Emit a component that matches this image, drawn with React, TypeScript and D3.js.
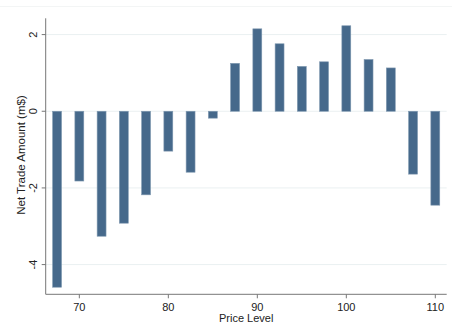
import * as d3 from "d3";

const priceLevels = [67.5, 70, 72.5, 75, 77.5, 80, 82.5, 85, 87.5, 90, 92.5, 95, 97.5, 100, 102.5, 105, 107.5, 110];
const netTrade = [-4.59, -1.82, -3.26, -2.92, -2.18, -1.04, -1.59, -0.18, 1.25, 2.15, 1.76, 1.17, 1.29, 2.23, 1.35, 1.13, -1.64, -2.45];
const xTicks = [70, 80, 90, 100, 110];
const yTicks = [-4, -2, 0, 2];

const W = 452;
const H = 324;
const font = "'Liberation Sans', Arial, sans-serif";

const App = () => {
  const x = d3.scaleLinear().domain([66.22, 111.28]).range([45.7, 446.7]);
  const y = d3.scaleLinear().domain([-4.775, 2.425]).range([294.3, 18.3]);
  const barW = x(68) - x(67);
  const [x0, x1] = x.range();
  const [y0, y1] = y.range();

  return (
    <svg width={W} height={H} style={{ position: "absolute", left: 0, top: 0, background: "#fff" }}>
      <line x1={0} x2={W} y1={6.5} y2={6.5} stroke="#f3f5f5" />
      {yTicks.map(t => (
        <line key={"g" + t} x1={x0} x2={x1} y1={y(t)} y2={y(t)} stroke="#eaf0f1" strokeWidth={1} />
      ))}
      {priceLevels.map((p, i) => {
        const v = netTrade[i];
        return (
          <rect
            key={p}
            x={x(p) - barW / 2}
            y={Math.min(y(v), y(0))}
            width={barW}
            height={Math.abs(y(v) - y(0))}
            fill="#46698b"
            stroke="#7f98b0"
            strokeWidth={0.6}
          />
        );
      })}
      {/* axes */}
      <line x1={x0} x2={x0} y1={y1} y2={y0} stroke="#777" strokeWidth={1} />
      <line x1={x0} x2={x1} y1={y0} y2={y0} stroke="#777" strokeWidth={1} />
      {yTicks.map(t => (
        <g key={"y" + t}>
          <line x1={x0 - 4} x2={x0} y1={y(t)} y2={y(t)} stroke="#777" />
          <text
            transform={`translate(${x0 - 9},${y(t)}) rotate(-90)`}
            textAnchor="middle"
            fontFamily={font}
            fontSize={11}
            fill="#222"
          >
            {t}
          </text>
        </g>
      ))}
      {xTicks.map(t => (
        <g key={"x" + t}>
          <line x1={x(t)} x2={x(t)} y1={y0} y2={y0 + 4} stroke="#777" />
          <text x={x(t)} y={y0 + 17} textAnchor="middle" fontFamily={font} fontSize={11} fill="#222">
            {t}
          </text>
        </g>
      ))}
      <text x={(x0 + x1) / 2} y={322} textAnchor="middle" fontFamily={font} fontSize={11} fill="#222">
        Price Level
      </text>
      <text
        transform={`translate(25,155) rotate(-90)`}
        textAnchor="middle"
        fontFamily={font}
        fontSize={11.5}
        fill="#222"
      >
        Net Trade Amount (m$)
      </text>
    </svg>
  );
};

export default App;
